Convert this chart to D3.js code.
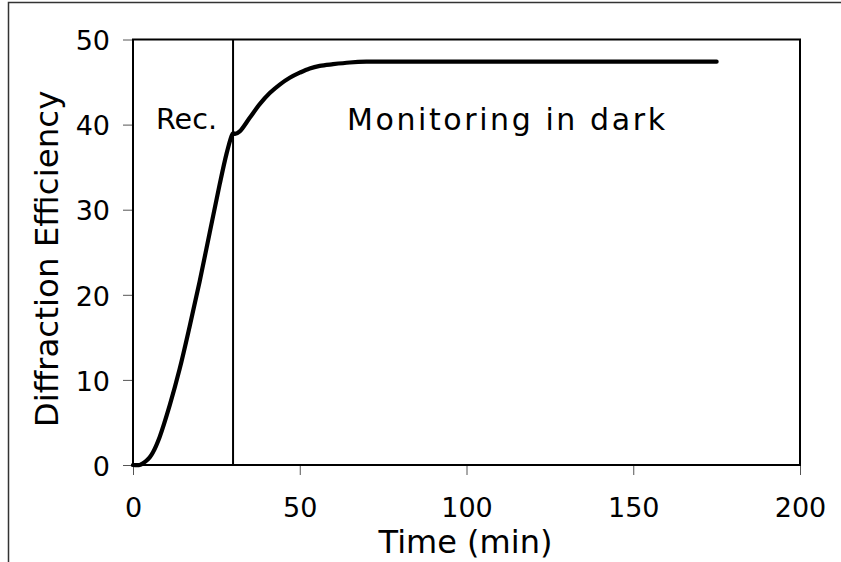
<!DOCTYPE html>
<html>
<head>
<meta charset="utf-8">
<script src="https://cdn.jsdelivr.net/npm/d3@7"></script>
<style>
  html, body { margin: 0; padding: 0; background: #fff; }
  svg { display: block; font-family: "DejaVu Sans", Verdana, sans-serif; }
</style>
</head>
<body>
<svg id="chart" width="841" height="562"></svg>
<script>
// Diffraction efficiency during recording (0-30 min) and afterwards in the dark
const timeMin = [0, 2, 3, 4, 5, 6, 8, 11, 14, 17, 20, 23, 26, 28, 29.5, 30,
                 30.6, 32, 35, 38, 41, 44, 47, 50, 53, 56, 60, 65, 70, 80, 100, 120, 140, 160, 175];
const efficiency = [0, 0, 0.2, 0.5, 0.9, 1.5, 3.3, 7.0, 11.3, 16.3, 21.6, 27.3, 33.0, 36.5, 38.6, 39.0,
                    38.9, 39.2, 40.8, 42.4, 43.7, 44.7, 45.5, 46.1, 46.6, 46.9, 47.1, 47.3, 47.4, 47.4, 47.4, 47.4, 47.4, 47.4, 47.4];
const recordingEnd = 30;
const xTicks = [0, 50, 100, 150, 200];
const yTicks = [0, 10, 20, 30, 40, 50];
const labels = { x: "Time (min)", y: "Diffraction Efficiency", rec: "Rec.", dark: "Monitoring in dark" };

const svg = d3.select("#chart");
const plot = { left: 133, right: 800, top: 39.5, bottom: 465 };

const x = d3.scaleLinear().domain([0, 200]).range([plot.left, plot.right]);
const y = d3.scaleLinear().domain([0, 50]).range([plot.bottom, plot.top]);

// outer frame (extends past the right and bottom edges)
svg.append("path")
  .attr("d", "M8.5,570 V2.5 H850")
  .attr("fill", "none").attr("stroke", "#333").attr("stroke-width", 1.5);

// axes with outward ticks
const xAxis = svg.append("g").attr("transform", `translate(0,${plot.bottom})`)
  .call(d3.axisBottom(x).tickValues(xTicks).tickSize(10).tickFormat(d3.format("d")));
const yAxis = svg.append("g").attr("transform", `translate(${plot.left},0)`)
  .call(d3.axisLeft(y).tickValues(yTicks).tickSize(10).tickPadding(13).tickFormat(d3.format("d")));

[xAxis, yAxis].forEach(g => {
  g.select(".domain").remove();
  g.selectAll(".tick line").attr("stroke", "#555").attr("stroke-width", 1);
  g.selectAll(".tick text").attr("fill", "#000").attr("font-size", 27)
    .attr("font-family", "'DejaVu Sans', Verdana, sans-serif");
});
xAxis.selectAll(".tick text").attr("dy", "0.71em").attr("y", 33);
yAxis.selectAll(".tick text").attr("dy", "0.38em");

// plot box
svg.append("rect")
  .attr("x", plot.left).attr("y", plot.top)
  .attr("width", plot.right - plot.left).attr("height", plot.bottom - plot.top)
  .attr("fill", "none").attr("stroke", "#000").attr("stroke-width", 2);

// end of recording marker
svg.append("line")
  .attr("x1", x(recordingEnd)).attr("x2", x(recordingEnd))
  .attr("y1", y(50)).attr("y2", y(0))
  .attr("stroke", "#000").attr("stroke-width", 2);

// efficiency curve
const line = d3.line().x((d, i) => x(timeMin[i])).y(d => y(d)).curve(d3.curveCatmullRom.alpha(0.5));
svg.append("path")
  .datum(efficiency)
  .attr("d", line)
  .attr("fill", "none").attr("stroke", "#000").attr("stroke-width", 4.2)
  .attr("stroke-linejoin", "round").attr("stroke-linecap", "round");

// annotations
svg.append("text").text(labels.rec)
  .attr("x", 156).attr("y", 129).attr("font-size", 28)
  .attr("textLength", 61).attr("lengthAdjust", "spacingAndGlyphs");
svg.append("text").text(labels.dark)
  .attr("x", 347).attr("y", 130).attr("font-size", 30)
  .attr("textLength", 318).attr("lengthAdjust", "spacing");

// axis titles
svg.append("text").text(labels.x)
  .attr("x", (376 + 555) / 2).attr("y", 553)
  .attr("text-anchor", "middle").attr("font-size", 32);
svg.append("text").text(labels.y)
  .attr("transform", `translate(58,259) rotate(-90)`)
  .attr("text-anchor", "middle").attr("font-size", 32.5);
</script>
</body>
</html>
